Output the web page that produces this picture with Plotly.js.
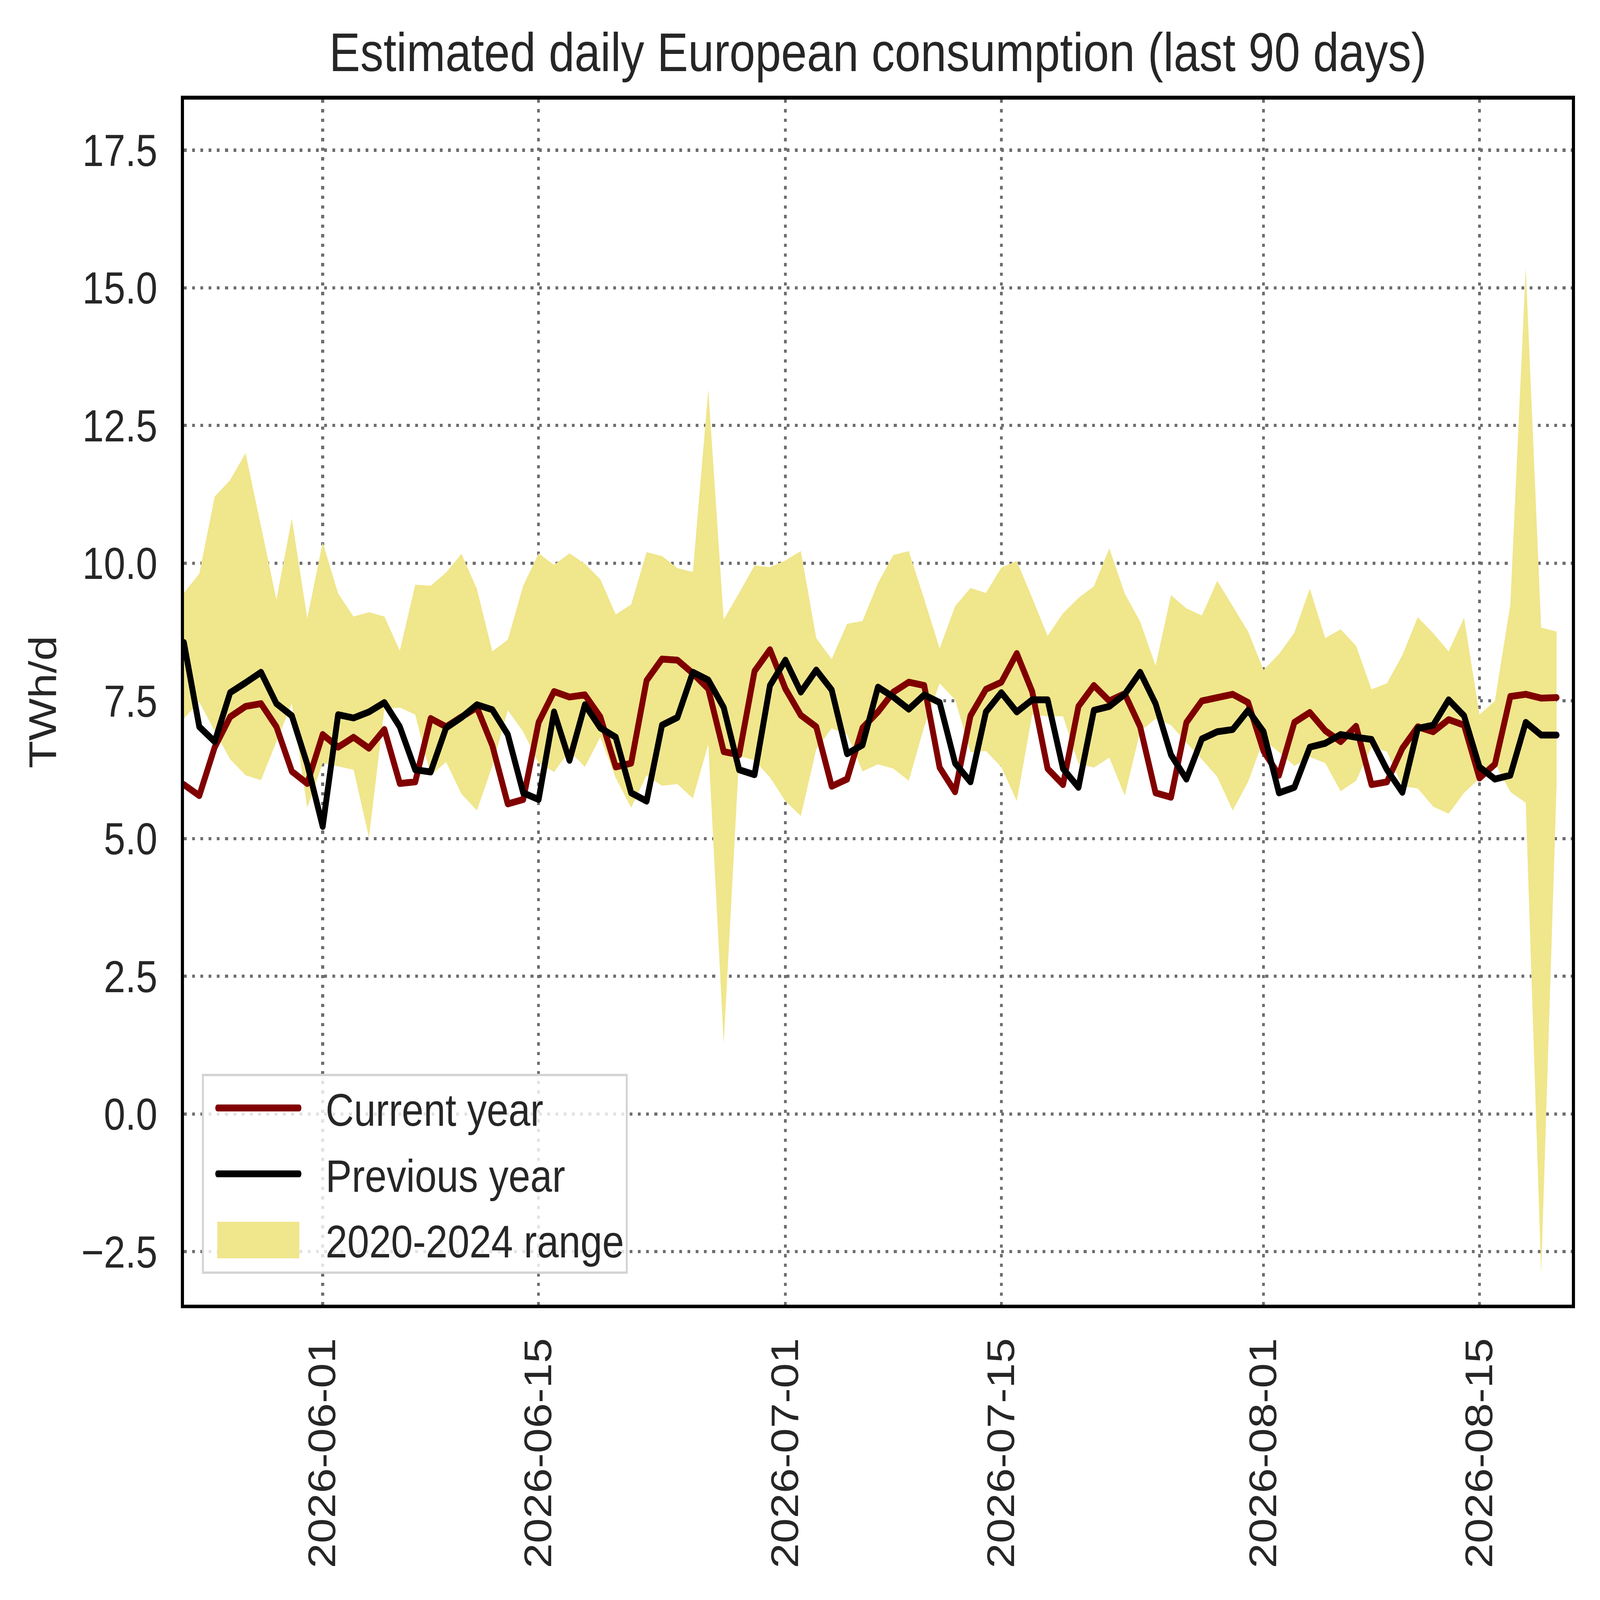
<!DOCTYPE html>
<html>
<head>
<meta charset="utf-8">
<script src="https://cdn.plot.ly/plotly-3.0.1.min.js"></script>
<style>
  html, body { margin: 0; padding: 0; background: #fff; overflow: hidden; }
  #chart { position: absolute; left: 0; top: 0; width: 5717px; height: 4906px; transform-origin: 0 0; }
  /* round joins like the matplotlib original */
  .scatterlayer .js-line { stroke-linejoin: round; stroke-linecap: round; }
  /* matplotlib-sized legend handles: short thick lines and a tall patch */
  .legend .legendlines path {
    stroke-width: 21px !important; stroke-linecap: round;
    transform-box: fill-box; transform-origin: 0% 50%;
    transform: translateX(43px) scaleX(0.69);
  }
  .legend .legendfill path {
    transform-box: fill-box; transform-origin: 0% 50%;
    transform: translateX(43px) scale(0.69, 18.7);
  }
</style>
</head>
<body>
<div id="chart"></div>
<script>
// Daily series, 2026-05-23 .. 2026-08-20 (TWh/d).
const START_DATE = "2026-05-23";

const currentYear = [
  5.98, 5.78, 6.66, 7.21, 7.40, 7.45, 7.03, 6.22, 6.00, 6.89,
  6.66, 6.84, 6.64, 6.98, 6.00, 6.03, 7.18, 7.03, 7.21, 7.38,
  6.69, 5.63, 5.71, 7.11, 7.67, 7.57, 7.61, 7.21, 6.30, 6.37,
  7.87, 8.26, 8.24, 8.00, 7.72, 6.58, 6.52, 8.04, 8.43, 7.72,
  7.24, 7.03, 5.95, 6.08, 7.01, 7.30, 7.66, 7.84, 7.78, 6.29,
  5.85, 7.23, 7.71, 7.84, 8.36, 7.67, 6.27, 5.98, 7.40, 7.78,
  7.50, 7.63, 7.03, 5.83, 5.75, 7.11, 7.50, 7.55, 7.62, 7.47,
  6.59, 6.15, 7.11, 7.29, 6.96, 6.76, 7.04, 5.98, 6.03, 6.64,
  7.03, 6.94, 7.16, 7.06, 6.10, 6.35, 7.58, 7.62, 7.55, 7.56,
];

const previousYear = [
  8.56, 7.03, 6.76, 7.65, 7.83, 8.02, 7.45, 7.23, 6.35, 5.22,
  7.25, 7.19, 7.30, 7.47, 7.03, 6.25, 6.21, 7.01, 7.20, 7.43,
  7.34, 6.89, 5.83, 5.71, 7.30, 6.42, 7.43, 7.01, 6.84, 5.83,
  5.68, 7.06, 7.20, 8.02, 7.88, 7.38, 6.25, 6.16, 7.78, 8.24,
  7.66, 8.06, 7.70, 6.54, 6.70, 7.75, 7.57, 7.35, 7.61, 7.47,
  6.37, 6.03, 7.30, 7.65, 7.30, 7.52, 7.52, 6.27, 5.93, 7.33,
  7.40, 7.62, 8.02, 7.45, 6.52, 6.08, 6.81, 6.94, 6.98, 7.33,
  6.94, 5.83, 5.93, 6.66, 6.73, 6.89, 6.84, 6.80, 6.25, 5.84,
  7.00, 7.06, 7.52, 7.23, 6.30, 6.08, 6.15, 7.11, 6.88, 6.88,
];

const rangeHigh = [
  9.46, 9.81, 11.21, 11.51, 12.00, 10.67, 9.34, 10.81, 9.00, 10.38,
  9.45, 9.03, 9.11, 9.03, 8.41, 9.61, 9.59, 9.83, 10.17, 9.53,
  8.40, 8.61, 9.59, 10.18, 9.97, 10.18, 9.99, 9.71, 9.07, 9.25,
  10.20, 10.13, 9.91, 9.84, 13.15, 8.98, 9.46, 9.96, 9.93, 10.05,
  10.22, 8.64, 8.26, 8.90, 8.95, 9.64, 10.15, 10.22, 9.35, 8.45,
  9.22, 9.55, 9.46, 9.92, 10.04, 9.37, 8.68, 9.09, 9.37, 9.58,
  10.27, 9.45, 8.94, 8.14, 9.42, 9.18, 9.05, 9.68, 9.22, 8.76,
  8.06, 8.35, 8.74, 9.54, 8.64, 8.80, 8.50, 7.71, 7.82, 8.33,
  9.02, 8.73, 8.40, 9.01, 7.25, 7.50, 9.25, 15.37, 8.83, 8.76,
];

const rangeLow = [
  7.18, 7.48, 6.95, 6.44, 6.15, 6.06, 6.76, 7.45, 5.56, 6.37,
  6.31, 6.25, 5.02, 7.35, 7.38, 7.25, 6.15, 6.39, 5.81, 5.51,
  6.32, 7.33, 6.94, 6.37, 6.21, 6.59, 6.30, 6.84, 6.10, 5.56,
  6.15, 5.96, 5.99, 5.73, 6.71, 1.28, 6.50, 6.42, 6.11, 5.68,
  5.41, 6.62, 7.00, 6.89, 6.22, 6.35, 6.27, 6.05, 7.03, 7.82,
  7.52, 6.57, 6.59, 6.30, 5.68, 7.25, 7.22, 7.22, 6.36, 6.29,
  6.47, 5.78, 6.94, 7.18, 7.06, 6.74, 6.44, 6.12, 5.51, 6.03,
  6.80, 6.57, 6.32, 6.48, 6.37, 5.86, 6.05, 6.66, 6.58, 5.95,
  5.91, 5.58, 5.45, 5.83, 6.09, 6.37, 5.85, 5.65, -2.90, 5.98,
];

const xTicks = ["2026-06-01", "2026-06-15", "2026-07-01", "2026-07-15", "2026-08-01", "2026-08-15"];
const xRange = ["2026-05-23", "2026-08-21"];
const yRange = [-3.46, 18.42];

function addDays(iso, n) {
  const d = new Date(iso + "T00:00:00Z");
  d.setUTCDate(d.getUTCDate() + n);
  return d.toISOString().slice(0, 10);
}
const days = currentYear.map((_, i) => addDays(START_DATE, i));

// Figure is laid out at the reference size, then stretched onto whatever viewport we get.
const BASE_W = 5717, BASE_H = 4906;
const TEXT = "#262626";
const FONT = "Liberation Sans, Arial, Helvetica, sans-serif";
const NONE = "rgba(0,0,0,0)";
const AXIS = {
  showgrid: true, gridcolor: "#6e6e6e", gridwidth: 10, griddash: "10px,19.5px",
  showline: true, linecolor: "#000000", linewidth: 10.5, mirror: true,
  zeroline: false, ticks: "", tickfont: { size: 138, color: TEXT },
};

const traces = [
  { x: days, y: rangeLow, mode: "lines", line: { width: 0, color: NONE },
    showlegend: false, hoverinfo: "skip", legendgroup: "range" },
  { x: days, y: rangeHigh, mode: "lines", line: { width: 0, color: NONE },
    fill: "tonexty", fillcolor: "#f0e68c", name: "2020-2024 range", legendgroup: "range", legendrank: 3 },
  { x: days, y: currentYear, mode: "lines", line: { color: "#800000", width: 21 },
    name: "Current year", legendgroup: "cur", legendrank: 1 },
  { x: days, y: previousYear, mode: "lines", line: { color: "#000000", width: 21 },
    name: "Previous year", legendgroup: "prev", legendrank: 2 },
];

const layout = {
  width: BASE_W, height: BASE_H,
  margin: { l: 657, r: 100, t: 305, b: 906, pad: 0 },
  paper_bgcolor: "#ffffff", plot_bgcolor: "#ffffff",
  font: { family: FONT, size: 138, color: TEXT },
  title: {
    text: "Estimated daily European consumption (last 90 days)",
    font: { size: 166, color: TEXT },
    x: 0.5, xref: "paper", xanchor: "center",
    y: 0.9674, yref: "container", yanchor: "middle",
  },
  xaxis: {
    ...AXIS, type: "date", range: xRange,
    tickvals: xTicks, ticktext: xTicks, tickangle: -90, ticklabelstandoff: 37,
  },
  yaxis: {
    ...AXIS, range: yRange, tick0: 0, dtick: 2.5, tickformat: ".1f",
    ticklabelstandoff: 56,
    title: { text: "TWh/d", font: { size: 138, color: TEXT }, standoff: 48 },
  },
  showlegend: true,
  legend: {
    x: 0.013, y: 0.0255, xanchor: "left", yanchor: "bottom", traceorder: "grouped",
    bgcolor: "rgba(255,255,255,0.8)", bordercolor: "#d4d4d4", borderwidth: 7,
    font: { size: 140, color: TEXT }, itemwidth: 425, tracegroupgap: 17,
  },
};

const el = document.getElementById("chart");
Plotly.newPlot(el, traces, layout, { displayModeBar: false, responsive: false }).then(() => {
  // stretch only after Plotly has measured its texts at the reference size
  const sx = (window.innerWidth || BASE_W) / BASE_W;
  const sy = (window.innerHeight || BASE_H) / BASE_H;
  el.style.transform = `scale(${sx}, ${sy})`;
});
</script>
</body>
</html>
